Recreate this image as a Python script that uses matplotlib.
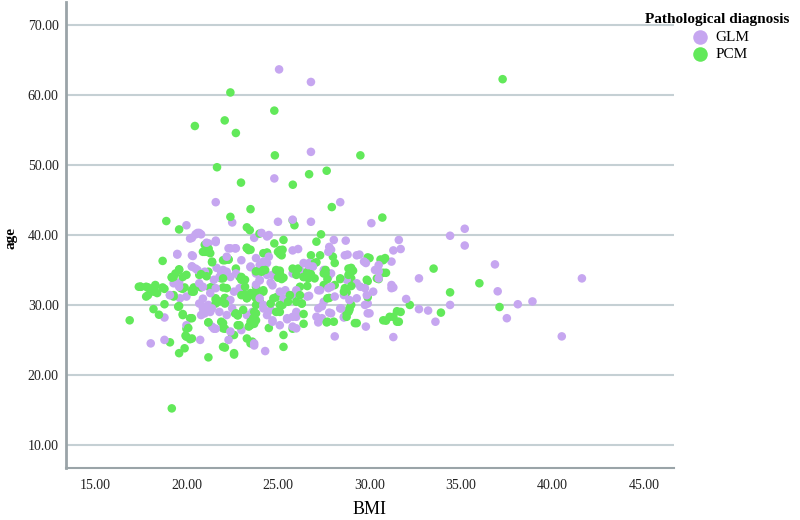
import numpy as np
import matplotlib.pyplot as plt

# BMI / age pairs
glm_bmi = [25.06, 26.8, 26.8, 24.8, 28.4, 21.6, 25.0, 26.8, 30.1, 22.5, 20.0, 20.8, 20.5, 20.2,
           24.5, 23.7, 34.4, 35.2, 35.2, 31.6, 28.05, 28.7, 21.6, 21.2, 22.3, 22.7, 26.1, 25.8,
           31.3, 31.7, 27.9, 19.5, 20.35, 29.45, 28.8, 36.85, 20.3, 20.5, 23.5, 24.4, 26.7, 26.9,
           29.8, 30.5, 32.7, 41.6, 21.9, 19.6, 20.7, 22.7, 24.7, 23.8, 25.4, 27.2, 27.9, 31.3,
           37.0, 26.7, 19.1, 20.9, 21.3, 29.85, 32.0, 38.9, 38.1, 34.4, 20.9, 21.4, 24.2, 27.4,
           28.45, 29.9, 32.7, 33.2, 18.8, 20.9, 27.8, 29.9, 25.5, 26.0, 27.2, 33.6, 37.5, 28.6,
           29.8, 20.0, 21.5, 23.0, 24.7, 28.1, 31.3, 40.5, 18.05, 18.8, 20.75, 22.3, 23.7, 24.3,
           23.7,
           20.6, 20.3, 20.7, 21.6, 21.1, 19.5, 20.3, 22.4, 22.65, 23.0, 22.2, 23.8, 24.0, 20.3,
           20.6, 21.0, 21.65, 22.0, 22.2, 21.8, 22.4, 21.5, 23.5, 23.8, 24.0, 20.9, 21.6, 19.3,
           19.6,
           25.8, 24.4, 24.1, 27.8, 27.75, 28.65, 29.3, 24.5, 24.2, 26.4, 26.65, 26.9, 29.7, 30.5,
           31.2, 27.5, 27.9, 27.75, 26.2, 25.8, 24.1, 24.4, 24.0, 24.6, 24.7, 28.75, 29.3, 29.5,
           30.3, 30.5, 31.2,
           20.7, 20.9, 21.2, 21.0, 21.3, 20.8, 21.6, 21.4, 22.4, 23.3, 23.6, 21.8, 22.2, 22.5,
           19.65, 20.0, 19.1, 22.6, 22.9, 22.4,
           31.2, 30.0, 29.75, 28.4, 28.6, 27.9, 27.4, 27.1, 27.2, 27.5, 25.5, 25.8, 26.0, 24.7,
           25.1, 25.8, 26.0, 24.0, 24.2, 24.6, 24.4, 25.1, 25.3, 25.75, 26.0, 26.6, 27.3, 27.75,
           28.1, 28.6, 28.9, 29.3, 29.75, 30.2]
glm_age = [63.7, 61.9, 51.9, 48.1, 44.7, 44.7, 41.9, 41.9, 41.7, 41.8, 41.4, 40.1, 40.1, 39.5,
           40.0, 39.6, 39.9, 40.9, 38.5, 39.3, 39.3, 39.2, 39.2, 38.8, 38.1, 38.1, 38.0, 37.8,
           37.8, 38.0, 37.9, 37.2, 37.0, 37.2, 37.2, 35.8, 35.5, 35.2, 35.4, 36.0, 36.0, 35.5,
           36.0, 34.8, 33.8, 33.8, 34.6, 33.2, 33.1, 34.5, 34.3, 32.9, 32.1, 32.1, 32.6, 32.5,
           31.95, 31.3, 31.4, 30.9, 31.7, 31.4, 30.85, 30.5, 30.1, 30.0, 29.8, 29.5, 29.5, 29.8,
           29.5, 30.2, 29.4, 29.2, 28.2, 28.8, 28.9, 28.8, 27.95, 28.3, 27.5, 27.6, 28.1, 28.2,
           26.9, 27.1, 26.6, 26.4, 27.6, 25.5, 25.4, 25.5, 24.5, 25.0, 25.0, 25.0, 24.5, 23.4,
           24.2,
           40.3, 39.6, 40.3, 39.0, 38.9, 37.3, 37.1, 38.1, 38.1, 36.4, 36.9, 36.7, 35.7, 35.5,
           35.0, 34.75, 35.3, 35.0, 34.75, 34.0, 34.0, 33.6, 35.5, 34.5, 33.6, 32.6, 32.4, 33.1,
           32.6,
           42.2, 39.8, 40.3, 38.3, 37.6, 37.1, 37.1, 36.9, 36.2, 36.0, 35.7, 35.5, 36.2, 35.7,
           36.2, 35.0, 34.5, 34.0, 35.0, 34.5, 35.5, 34.3, 33.5, 33.2, 32.8, 33.6, 33.1, 32.6,
           35.0, 33.8, 32.85,
           30.2, 29.5, 30.0, 28.8, 29.0, 28.55, 26.6, 26.9, 26.2, 28.55, 29.0, 29.0, 28.55, 29.5,
           30.95, 31.2, 31.4, 31.9, 32.4, 30.7,
           32.4, 28.8, 30.0, 29.5, 28.3, 28.8, 28.1, 28.3, 29.5, 30.45, 28.1, 28.3, 29.0, 27.8,
           27.1, 26.9, 26.65, 30.95, 30.0, 29.3, 28.55, 31.9, 30.95, 31.4, 32.1, 31.2, 32.1, 32.4,
           31.2, 31.4, 30.7, 30.95, 32.4, 31.9]

pcm_bmi = [37.27, 22.4, 24.8, 20.46, 22.09, 22.7, 24.83, 29.5, 21.67, 22.98, 26.7, 27.66, 25.81,
           27.94, 23.5, 22.4, 18.9, 30.7, 19.6, 25.8, 25.9, 23.3, 23.46, 23.99, 27.35, 27.1, 25.3,
           24.8, 23.3, 23.5, 21.2, 21.0, 21.3, 22.1, 22.3, 24.4, 25.1, 25.25, 26.8, 27.3, 28.0,
           29.9, 30.6, 18.7, 21.4, 28.1, 27.1, 25.8, 26.1, 27.6, 29.0, 29.1, 33.5, 19.6, 25.1,
           19.3, 19.2, 19.8, 20.8, 21.1, 22.0, 23.0, 23.2, 23.8, 24.2, 25.2, 26.4, 26.6, 26.8,
           27.7, 28.4, 28.9, 29.9, 30.5, 30.9, 17.4, 17.9, 18.3, 18.8, 19.8, 20.3, 21.4, 26.2,
           26.6, 29.0, 36.0, 17.9, 18.4, 19.3, 20.4, 21.6, 22.1, 23.1, 23.5, 23.8, 24.2, 23.3,
           24.9, 25.8, 26.0, 27.8, 28.75, 29.9, 34.4, 18.8, 19.6, 21.6, 22.1, 25.25, 26.3, 29.0,
           32.2, 37.1, 18.2, 18.5, 19.8, 20.3, 22.7, 22.8, 23.7, 25.1, 26.4, 28.75, 28.9, 31.3,
           31.7, 33.9, 16.9, 21.2, 22.0, 22.9, 23.8, 23.5, 23.7, 26.4, 27.66, 28.05, 29.3, 30.9,
           31.6, 20.1, 22.1, 24.5, 25.8, 19.95, 20.2, 22.6, 23.3, 23.6, 25.3, 19.1, 19.9, 22.1,
           25.3, 19.6, 21.2, 22.6, 19.2,
           21.0, 21.2, 20.9, 21.1, 21.4, 23.3, 23.4, 22.0, 22.3, 19.6, 19.4, 19.2, 20.0, 20.7,
           21.2, 22.7, 22.9, 23.0, 23.8, 24.1, 21.9, 17.5, 18.3, 18.7, 19.9, 20.4, 20.8, 21.3,
           22.0, 23.2, 23.8,
           24.2, 24.4, 25.0, 25.1, 25.2, 27.0, 26.6, 27.5, 27.6, 28.85, 29.0, 24.1, 24.3, 24.9,
           25.1, 25.0, 25.3, 26.0, 26.4, 26.65, 27.0, 28.4, 28.85, 29.0, 29.85, 30.4, 30.75,
           27.5, 28.1, 30.0, 30.75, 30.85,
           19.55, 19.8, 20.2, 20.0, 20.0, 20.3, 21.2, 21.9, 22.0, 22.5, 22.0, 22.6, 22.8, 23.4,
           23.5, 22.65, 22.8, 23.1, 23.65, 23.8, 23.5, 23.8, 24.0, 21.3, 21.6, 21.8, 22.1, 22.2,
           23.0, 23.3, 23.6, 23.8, 24.2, 19.3, 19.7, 20.3, 17.8, 18.2, 17.5, 17.8,
           27.7, 27.7, 29.2, 28.9, 28.85, 28.75, 30.75, 31.1, 31.5, 31.5, 24.75, 25.1, 24.9, 24.6,
           26.3, 26.2, 25.65, 25.55, 26.0, 28.6, 28.65]
pcm_age = [62.3, 60.4, 57.8, 55.6, 56.4, 54.6, 51.4, 51.4, 49.7, 47.5, 48.7, 49.2, 47.2,
           44.0, 43.7, 42.6, 42.0, 42.5, 40.8, 42.1, 41.4, 41.1, 40.7, 40.2, 40.1, 39.05, 39.3,
           38.8, 38.2, 37.9, 38.0, 37.6, 37.4, 36.4, 36.5, 37.5, 37.3, 37.9, 37.1, 37.1, 36.9,
           36.8, 36.5, 36.3, 36.1, 36.0, 36.1, 35.2, 35.2, 35.0, 35.3, 34.9, 35.2, 35.1, 34.9,
           34.0, 33.9, 34.0, 34.4, 34.1, 33.8, 34.0, 33.6, 34.8, 35.0, 33.7, 34.0, 34.1, 34.4,
           33.7, 33.7, 34.3, 33.4, 33.7, 34.6, 32.6, 32.5, 32.7, 32.3, 32.3, 32.1, 32.6, 32.6,
           32.7, 32.7, 33.1, 31.4, 31.7, 31.4, 31.9, 30.7, 31.0, 31.7, 31.7, 31.9, 32.1, 31.0,
           31.1, 31.4, 31.7, 31.0, 31.8, 31.1, 31.8, 30.1, 29.85, 30.2, 30.2, 30.0, 30.2, 30.0,
           30.0, 29.7, 29.4, 28.6, 28.7, 28.1, 28.8, 28.5, 29.0, 29.0, 28.7, 28.8, 29.3, 28.3,
           29.0, 28.9, 27.8, 27.5, 27.4, 27.1, 27.8, 27.1, 27.3, 27.3, 27.5, 27.6, 27.4, 27.75,
           27.6, 26.7, 26.6, 26.7, 26.6, 25.6, 25.1, 25.7, 25.2, 24.75, 25.7, 24.65, 23.8, 23.9,
           24.0, 23.1, 22.5, 22.9, 15.2,
           38.6, 38.1, 37.6, 37.6, 36.2, 38.1, 37.85, 36.4, 36.5, 35.0, 34.5, 34.0, 34.3, 34.3,
           34.75, 35.2, 34.0, 33.6, 34.75, 35.0, 33.8, 32.6, 32.85, 32.5, 32.5, 32.5, 32.5, 32.5,
           32.5, 32.6, 32.6,
           37.4, 37.4, 37.6, 37.85, 37.1, 36.0, 34.75, 34.5, 34.5, 35.2, 34.75, 34.75, 35.0, 35.0,
           34.5, 33.9, 33.9, 34.3, 34.0, 33.8, 33.8, 33.8, 34.3, 33.8, 33.6, 33.8, 34.6,
           32.85, 32.85, 36.7, 36.4, 36.7,
           29.75, 28.55, 28.1, 26.6, 25.45, 25.2, 27.5, 27.6, 26.65, 25.7, 24.0, 23.1, 27.1, 26.9,
           24.5, 28.8, 28.55, 29.3, 28.1, 28.8, 27.6, 30.0, 30.5, 32.4, 30.95, 30.5, 30.95, 32.4,
           31.4, 30.95, 31.4, 30.95, 31.9, 31.2, 32.4, 31.9, 31.2, 31.9, 32.6, 32.6,
           30.95, 27.6, 27.4, 29.5, 29.0, 28.3, 27.8, 28.3, 27.6, 29.1, 30.95, 30.0, 29.0, 30.2,
           30.2, 31.4, 31.4, 30.45, 30.45, 31.9, 32.4]

x_ticks = [15, 20, 25, 30, 35, 40, 45]
y_ticks = [10, 20, 30, 40, 50, 60, 70]

glm_color = '#c6a6f0'
pcm_color = '#62e95a'

plt.rcParams['font.family'] = ['Liberation Serif', 'DejaVu Serif']

fig = plt.figure(figsize=(8, 5.2), dpi=100)
ax = fig.add_axes([0.082, 0.1, 0.7605, 0.896])

# mix the draw order of the two groups so neither one sits fully on top
x_all = np.array(glm_bmi + pcm_bmi)
y_all = np.array(glm_age + pcm_age)
c_all = np.array([glm_color] * len(glm_bmi) + [pcm_color] * len(pcm_bmi))
order = np.argsort(np.arange(len(x_all)) * 7 % len(x_all), kind='stable')
ax.scatter(x_all[order], y_all[order], s=38, c=c_all[order], linewidths=0, zorder=3)

# legend handles
ax.scatter([], [], s=38, color=glm_color, linewidths=0, label='GLM')
ax.scatter([], [], s=38, color=pcm_color, linewidths=0, label='PCM')

ax.set_xlim(13.4, 46.63)
ax.set_ylim(6.67, 73.33)
ax.set_xticks(x_ticks)
ax.set_xticklabels([f'{v:.2f}' for v in x_ticks])
ax.set_yticks(y_ticks)
ax.set_yticklabels([f'{v:.2f}' for v in y_ticks])
ax.tick_params(length=0, labelsize=10, colors='#222222')
ax.tick_params(axis='x', pad=8)
ax.tick_params(axis='y', pad=5)
ax.yaxis.grid(True, color='#c5d0d4', linewidth=1.5, zorder=0)
ax.set_axisbelow(True)

for side in ['top', 'right']:
    ax.spines[side].set_visible(False)
ax.spines['left'].set_color('#9aa4a8')
ax.spines['left'].set_linewidth(2)
ax.spines['bottom'].set_color('#9aa4a8')
ax.spines['bottom'].set_linewidth(1.5)

fig.text(0.4625, 0.02, 'BMI', fontsize=13, ha='center', va='center')
fig.text(0.014, 0.542, 'age', fontsize=11, fontweight='bold', rotation=90,
         ha='center', va='center')

leg = fig.legend(loc='upper right', bbox_to_anchor=(1.0, 0.995), frameon=False,
                 title='Pathological diagnosis', fontsize=11, markerscale=1.7,
                 handletextpad=0.0, labelspacing=0.25, borderpad=0.2)
leg.get_title().set_fontweight('bold')
leg.get_title().set_fontsize(11)

fig.savefig('out.png', dpi=100)
